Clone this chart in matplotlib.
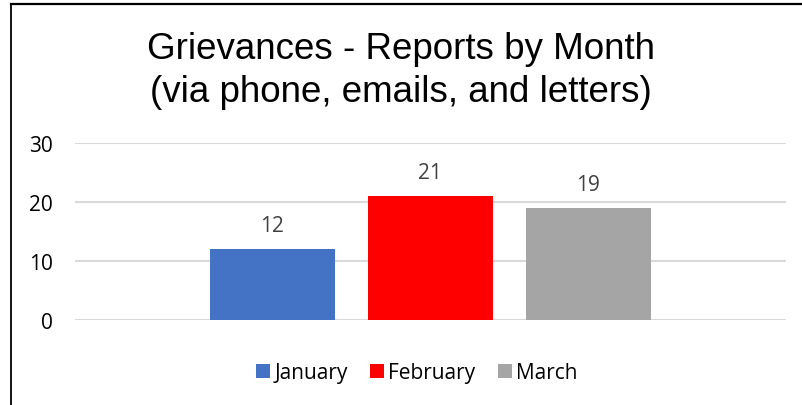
import matplotlib.pyplot as plt
from matplotlib.lines import Line2D
from matplotlib.patches import Patch

# data
months = ["January", "February", "March"]
reports = [12, 21, 19]
colors = ["#4472C4", "#FF0000", "#A5A5A5"]
yticks = [0, 10, 20, 30]

W, H = 802, 406
fig = plt.figure(figsize=(W / 100, H / 100), dpi=100)

# plot area in pixel terms from the reference
ax = fig.add_axes([75 / W, 1 - 321 / H, (786 - 75) / W, (321 - 144) / H])

x = list(range(len(months)))
bars = ax.bar(x, reports, width=125 / 158, color=colors, zorder=3)
ax.set_xlim(-1.25, 3.253)
ax.set_ylim(0, 30)
ax.set_yticks(yticks)
ax.set_xticks([])
ax.grid(axis="y", color="#D9D9D9", linewidth=1.5, zorder=0)
for s in ax.spines.values():
    s.set_visible(False)
ax.tick_params(axis="y", length=0, pad=16, labelsize=15, labelcolor="#000000")
for lab in ax.get_yticklabels():
    lab.set_family("Open Sans")

for b, v in zip(bars, reports):
    ax.annotate(str(v), (b.get_x() + b.get_width() / 2, v), xytext=(0, 13),
                textcoords="offset points", ha="center", va="baseline",
                fontsize=15, color="#404040", family="Open Sans")

# title, two lines
fig.text(0.5, 1 - 59 / H, "Grievances - Reports by Month", ha="center",
         va="baseline", fontsize=26.5, family="Liberation Sans")
fig.text(0.5, 1 - 102 / H, "(via phone, emails, and letters)", ha="center",
         va="baseline", fontsize=26.5, family="Liberation Sans")

handles = [Patch(facecolor=c, edgecolor="none") for c in colors]
fig.legend(handles, months, loc="center", bbox_to_anchor=(417 / W, 1 - 374 / H),
           ncol=3, frameon=False, handlelength=0.67, handleheight=0.67,
           handletextpad=0.19, columnspacing=1.1,
           prop={"family": "Open Sans", "size": 15})

# frame: top and left edges of the chart box
fig.add_artist(Line2D([11 / W, 1], [1 - 5 / H, 1 - 5 / H], color="black",
                      linewidth=1.6, transform=fig.transFigure))
fig.add_artist(Line2D([11 / W, 11 / W], [0, 1 - 5 / H], color="black",
                      linewidth=1.3, transform=fig.transFigure))

fig.savefig("out.png", dpi=100)
plt.close(fig)
